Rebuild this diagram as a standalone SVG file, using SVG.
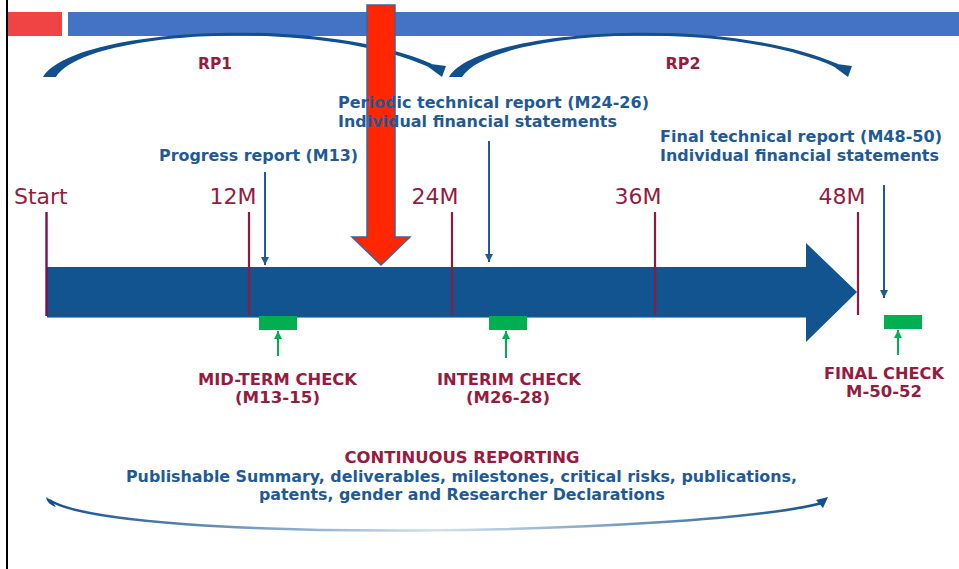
<svg xmlns="http://www.w3.org/2000/svg" width="959" height="569" viewBox="0 0 959 569">
<defs>
<style>
.lbl{font-family:"DejaVu Sans","Liberation Sans",sans-serif;font-weight:bold;font-size:15px}
.blue{fill:#1F5A96}
.crim{fill:#961B3E}
.ms{font-family:"DejaVu Sans","Liberation Sans",sans-serif;font-size:22px;fill:#961B3E}
.tick{stroke:#8E1B3E;stroke-width:2.2}
.bl{stroke:#1F5A96;stroke-width:2;fill:none}
.gr{stroke:#00B050;stroke-width:2;fill:none}
.cr{font-family:"DejaVu Sans Condensed","Liberation Sans",sans-serif;font-weight:bold;font-size:15px;text-anchor:middle}
.curve{fill:#11508C}
</style>
<marker id="ab" markerUnits="userSpaceOnUse" markerWidth="10" markerHeight="10" refX="8" refY="4" orient="auto">
<path d="M0,0 L8,4 L0,8 Z" fill="#1F5A96"/>
</marker>
<marker id="ag" markerUnits="userSpaceOnUse" markerWidth="10" markerHeight="10" refX="8" refY="4" orient="auto">
<path d="M0,0 L8,4 L0,8 Z" fill="#00B050"/>
</marker>
<linearGradient id="fade" x1="49" y1="0" x2="827" y2="0" gradientUnits="userSpaceOnUse">
<stop offset="0" stop-color="#11508C"/>
<stop offset="0.5" stop-color="#D3E1F0"/>
<stop offset="1" stop-color="#11508C"/>
</linearGradient>
</defs>
<rect width="959" height="569" fill="#FFFFFF"/>
<rect x="6" y="0" width="2" height="569" fill="#000000"/>

<g id="header">
<rect x="8" y="12" width="54" height="24" fill="#F04343"/>
<rect x="68" y="12" width="891" height="24" fill="#4472C4"/>
</g>

<g id="rp1-arc">
<path class="curve" d="M43,77 C72,28 318,14 432,64 L429,67 C320,18 85,30 56,77 Z"/>
<polygon class="curve" points="423,63 446,66 442,77"/>
</g>
<g id="rp2-arc" transform="translate(406,0)">
<path class="curve" d="M43,77 C72,28 318,14 432,64 L429,67 C320,18 85,30 56,77 Z"/>
<polygon class="curve" points="423,63 446,66 442,77"/>
</g>

<g id="timeline">
<path d="M47,267 L806,267 L806,243 L857,292 L806,342 L806,317 L47,317 Z" fill="#11548F"/>
<line x1="47" y1="317.5" x2="806" y2="317.5" stroke="#7FA3CF" stroke-width="1"/>
</g>

<g id="milestones">
<line x1="46.5" y1="212" x2="46.5" y2="316" stroke="#7A1158" stroke-width="2.4"/>
<line class="tick" x1="249" y1="212" x2="249" y2="315"/>
<line class="tick" x1="452" y1="212" x2="452" y2="315"/>
<line class="tick" x1="655" y1="212" x2="655" y2="315"/>
<line class="tick" x1="858" y1="212" x2="858" y2="315"/>
<text class="ms" x="14" y="204">Start</text>
<text class="ms" x="233" y="204" text-anchor="middle">12M</text>
<text class="ms" x="435" y="204" text-anchor="middle">24M</text>
<text class="ms" x="638" y="204" text-anchor="middle">36M</text>
<text class="ms" x="842" y="204" text-anchor="middle">48M</text>
</g>

<g id="red-arrow">
<path d="M367,5 L395,5 L395,237 L410,237 L381,265 L352,237 L367,237 Z" fill="#FF2600" stroke="#41639A" stroke-width="1.5" stroke-linejoin="miter"/>
</g>

<g id="connectors">
<line class="bl" x1="265" y1="172" x2="265" y2="265" marker-end="url(#ab)"/>
<line class="bl" x1="489" y1="141" x2="489" y2="262" marker-end="url(#ab)"/>
<line class="bl" x1="884" y1="185" x2="884" y2="298" marker-end="url(#ab)"/>
<line class="gr" x1="278" y1="356" x2="278" y2="331" marker-end="url(#ag)"/>
<line class="gr" x1="506" y1="358" x2="506" y2="331" marker-end="url(#ag)"/>
<line class="gr" x1="898" y1="355" x2="898" y2="330" marker-end="url(#ag)"/>
</g>

<g id="checks">
<rect x="259" y="316" width="38" height="14" fill="#00B050"/>
<rect x="489" y="316" width="38" height="14" fill="#00B050"/>
<rect x="884" y="315" width="38" height="14" fill="#00B050"/>
</g>

<g id="labels">
<text class="lbl crim" x="198" y="69" textLength="34" lengthAdjust="spacingAndGlyphs">RP1</text>
<text class="lbl crim" x="665.5" y="69" textLength="35" lengthAdjust="spacingAndGlyphs">RP2</text>
<text class="lbl blue" x="159" y="161" textLength="199" lengthAdjust="spacingAndGlyphs">Progress report (M13)</text>
<text class="lbl blue" x="338" y="107.5" textLength="311" lengthAdjust="spacingAndGlyphs">Periodic technical report (M24-26)</text>
<text class="lbl blue" x="338" y="127" textLength="279" lengthAdjust="spacingAndGlyphs">Individual financial statements</text>
<text class="lbl blue" x="660" y="141.5" textLength="282" lengthAdjust="spacingAndGlyphs">Final technical report (M48-50)</text>
<text class="lbl blue" x="660" y="160.5" textLength="279" lengthAdjust="spacingAndGlyphs">Individual financial statements</text>
<text class="lbl crim" x="198" y="385" textLength="159" lengthAdjust="spacingAndGlyphs">MID-TERM CHECK</text>
<text class="lbl crim" x="235" y="403" textLength="85" lengthAdjust="spacingAndGlyphs">(M13-15)</text>
<text class="lbl crim" x="437" y="385" textLength="144" lengthAdjust="spacingAndGlyphs">INTERIM CHECK</text>
<text class="lbl crim" x="466" y="403" textLength="84" lengthAdjust="spacingAndGlyphs">(M26-28)</text>
<text class="lbl crim" x="824" y="379" textLength="120" lengthAdjust="spacingAndGlyphs">FINAL CHECK</text>
<text class="lbl crim" x="846" y="397" textLength="76" lengthAdjust="spacingAndGlyphs">M-50-52</text>
</g>

<g id="continuous-reporting">
<path d="M49,500 C120,545 700,535 822,503" fill="none" stroke="url(#fade)" stroke-width="2.5"/>
<path d="M46,497 C47,502 50,505 56,507 L52,501 Z" fill="#11508C"/>
<polygon points="816,500 828,497 823,508" fill="#11508C"/>
<text class="cr crim" x="462" y="463" textLength="235" lengthAdjust="spacingAndGlyphs">CONTINUOUS REPORTING</text>
<text class="cr blue" x="461.5" y="482" textLength="671" lengthAdjust="spacingAndGlyphs">Publishable Summary, deliverables, milestones, critical risks, publications,</text>
<text class="cr blue" x="462" y="500" textLength="406" lengthAdjust="spacingAndGlyphs">patents, gender and Researcher Declarations</text>
</g>
</svg>
